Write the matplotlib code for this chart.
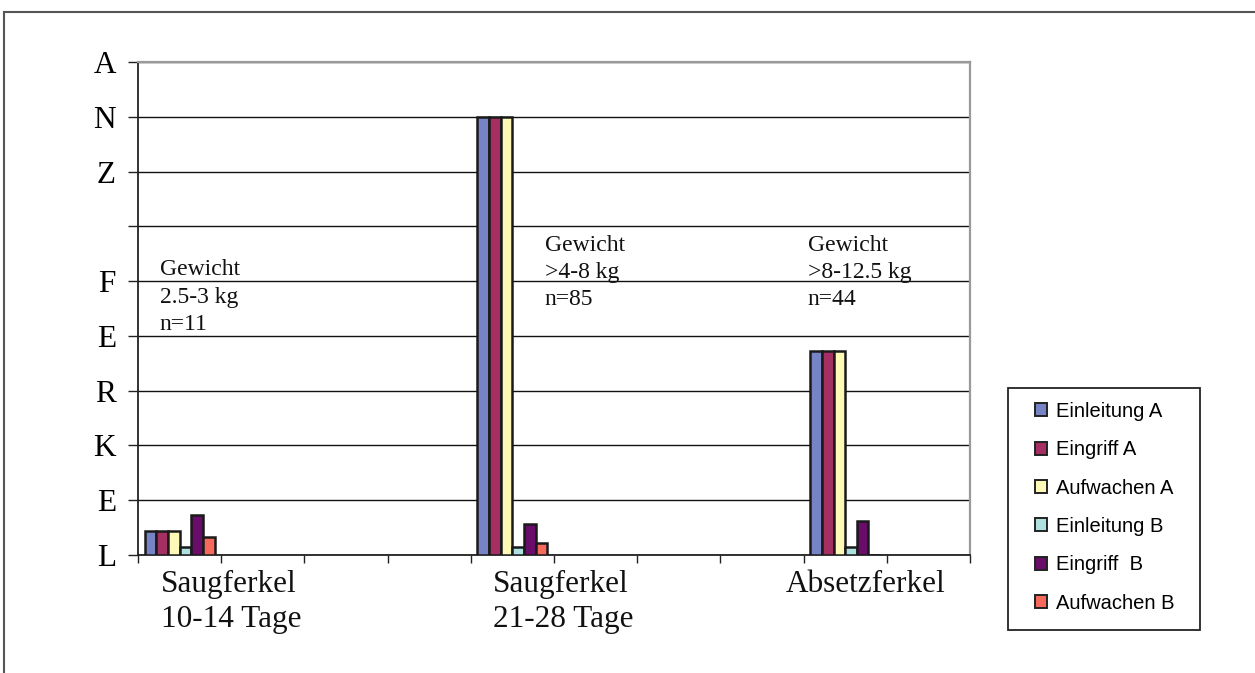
import matplotlib
matplotlib.use("Agg")
import matplotlib.pyplot as plt
from matplotlib.lines import Line2D
from matplotlib.patches import Patch, Rectangle
import numpy as np

# Chart data
n_slots = 10
group_slots = [0, 4, 8]
group_labels = ["Saugferkel\n10-14 Tage", "Saugferkel\n21-28 Tage", "Absetzferkel"]
group_notes = ["Gewicht\n2.5-3 kg\nn=11", "Gewicht\n>4-8 kg\nn=85", "Gewicht\n>8-12.5 kg\nn=44"]

series_names = ["Einleitung A", "Eingriff A", "Aufwachen A",
                "Einleitung B", "Eingriff  B", "Aufwachen B"]
series_colors = ["#7683C4", "#A52F62", "#FFF9B8", "#ADE0DF", "#6A0C6A", "#F56A5C"]

einleitung_a = [4.3, 80.0, 37.2]
eingriff_a = [4.3, 80.0, 37.2]
aufwachen_a = [4.3, 80.0, 37.2]
einleitung_b = [1.4, 1.4, 1.5]
eingriff_b = [7.3, 5.6, 6.2]
aufwachen_b = [3.2, 2.2, 0.0]

y_letters = ["L", "E", "K", "R", "E", "F", "", "Z", "N", "A"]
y_ticks = [0, 10, 20, 30, 40, 50, 60, 70, 80, 90]

series_values = [einleitung_a, eingriff_a, aufwachen_a,
                 einleitung_b, eingriff_b, aufwachen_b]

serif = ["Liberation Serif", "DejaVu Serif"]
sans = ["Liberation Sans", "DejaVu Sans"]

W, H = 1255, 673
fig = plt.figure(figsize=(W / 100, H / 100), dpi=100)
fig.patch.set_facecolor("white")

ax = fig.add_axes([138 / W, 1 - 555 / H, (970 - 138) / W, (555 - 62) / H])

bar_w = 0.14
x = np.array(group_slots, dtype=float)
for i, (vals, col) in enumerate(zip(series_values, series_colors)):
    ax.bar(x + (i - 2.5) * bar_w, vals, width=bar_w, color=col,
           edgecolor="#1a1a1a", linewidth=1.8, zorder=3)

ax.set_xlim(-0.5, n_slots - 0.5)
ax.set_ylim(0, 90)

# horizontal gridlines
ax.set_yticks(y_ticks)
ax.set_yticklabels(y_letters, fontfamily=serif, fontsize=22.5)
ax.yaxis.grid(True, color="#111111", linewidth=1.0, zorder=0)
ax.tick_params(axis="y", length=7, width=1.0, color="#222222", pad=9)

# category boundaries on the x axis
ax.set_xticks(np.arange(-0.5, n_slots, 1.0))
ax.set_xticklabels([])
ax.tick_params(axis="x", length=6, width=1.0, color="#222222")

for side in ["left", "bottom"]:
    ax.spines[side].set_color("#222222")
    ax.spines[side].set_linewidth(1.3)
for side in ["top", "right"]:
    ax.spines[side].set_color("#9a9a9a")
    ax.spines[side].set_linewidth(1.6)

# category captions under the axis
cat_x = [-0.22, 3.77, 7.28]
for cx, lab in zip(cat_x, group_labels):
    ax.text(cx, -0.03, lab, transform=ax.get_xaxis_transform(),
            ha="left", va="top", fontfamily=serif, fontsize=22.5,
            linespacing=1.3, color="#111111")

# notes about weight and sample size
note_pos = [(-0.24, 54.0), (4.39, 58.5), (7.55, 58.5)]
for (nx, ny), note in zip(note_pos, group_notes):
    ax.text(nx, ny, note, ha="left", va="top", fontfamily=serif,
            fontsize=17, linespacing=1.4, color="#111111", zorder=4)

# legend box and entries
fig.add_artist(Rectangle((1008 / W, 1 - 630 / H), (1200 - 1008) / W, (630 - 388) / H,
                         transform=fig.transFigure, facecolor="white",
                         edgecolor="#222222", linewidth=1.3, zorder=5))
handles = [Patch(facecolor=c, edgecolor="#222222", linewidth=1.4)
           for c in series_colors]
leg = fig.legend(handles, series_names, loc="upper left",
                 bbox_to_anchor=(1035 / W, 1 - 402 / H),
                 prop={"family": sans, "size": 14.5},
                 frameon=False,
                 handlelength=0.62, handleheight=0.62, handletextpad=0.4,
                 labelspacing=0.96, borderpad=0.0, borderaxespad=0)
leg.set_zorder(6)

# outer frame of the figure
fig.add_artist(Line2D([4 / W, 1.0], [1 - 12 / H, 1 - 12 / H],
                      transform=fig.transFigure, color="#555555", linewidth=1.5))
fig.add_artist(Line2D([4 / W, 4 / W], [1 - 12 / H, 0.0],
                      transform=fig.transFigure, color="#555555", linewidth=1.5))

fig.savefig("out.png", dpi=100, facecolor="white")
